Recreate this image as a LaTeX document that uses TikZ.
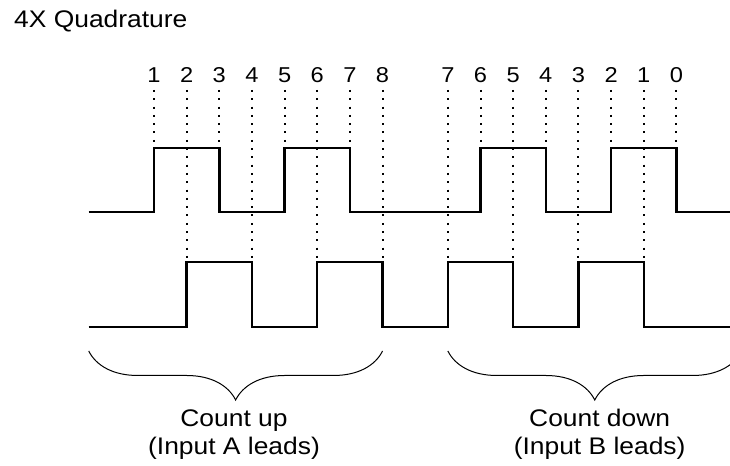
\documentclass[tikz,border=0pt]{standalone}
\usepackage{fontspec}
\setmainfont{Liberation Sans}[FakeStretch=1.1]
\usetikzlibrary{decorations.pathreplacing}
\tikzset{
  sig/.style={line width=2.4pt},
  tick/.style={line width=2pt, dash pattern=on 2pt off 6.3pt},
  cnt/.style={inner sep=0pt, anchor=base, font=\fontsize{21.5}{25}\selectfont},
  txt/.style={inner sep=0pt, anchor=base, font=\fontsize{24}{28}\selectfont},
  brc/.style={line width=1pt, decorate, decoration={brace, amplitude=49pt}}
}
\begin{document}
\begin{tikzpicture}[x=32.65pt, y=1pt]
\useasboundingbox (-4.717,0) rectangle (17.642,466);
\node[txt, anchor=base west] (title) at (-4.288,438) {4X Quadrature};
% count numbers and their dotted markers
\foreach \k/\n/\lvl in {0/1/318, 1/2/204, 2/3/318, 3/4/204, 4/5/318, 5/6/204, 6/7/318, 7/8/204,
                        9/7/204, 10/6/318, 11/5/204, 12/4/318, 13/3/204, 14/2/318, 15/1/204, 16/0/318}{
  \node[cnt] (c\k) at (\k,383) {\n};
  \draw[tick] ([yshift=-7pt]c\k.base) -- (\k,\lvl);
}
% input A
\draw[sig] (-2,254) -- (0,254) -- (0,318) -- (2,318) -- (2,254) -- (4,254) -- (4,318) -- (6,318)
  -- (6,254) -- (10,254) -- (10,318) -- (12,318) -- (12,254) -- (14,254) -- (14,318) -- (16,318)
  -- (16,254) -- (17.7,254);
% input B
\draw[sig] (-2,139) -- (1,139) -- (1,204) -- (3,204) -- (3,139) -- (5,139) -- (5,204) -- (7,204)
  -- (7,139) -- (9,139) -- (9,204) -- (11,204) -- (11,139) -- (13,139) -- (13,204) -- (15,204)
  -- (15,139) -- (17.7,139);
% braces
\draw[brc] (7,115) -- (-2,115);
\draw[brc] (18,115) -- (9,115);
\node[txt] (up) at (2.45,39) {Count up};
\node[txt] (upnote) at (2.45,11) {(Input A leads)};
\node[txt] (down) at (13.65,39) {Count down};
\node[txt] (downnote) at (13.65,11) {(Input B leads)};
\end{tikzpicture}
\end{document}
